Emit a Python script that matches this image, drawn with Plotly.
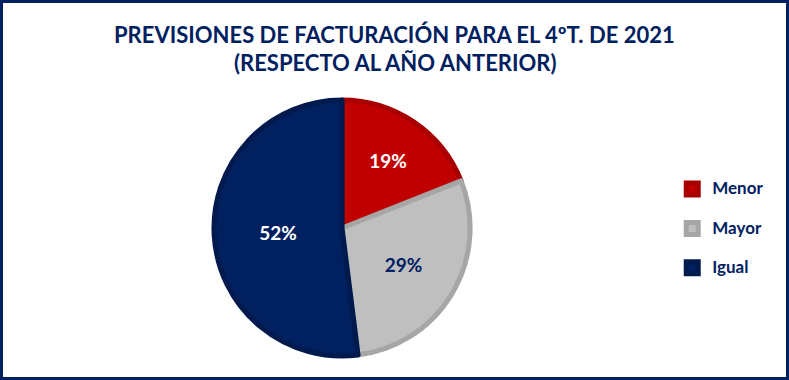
import plotly.graph_objects as go

categories = ["Menor", "Mayor", "Igual"]
values = [19, 29, 52]
slice_colors = ["#C00000", "#BFBFBF", "#002060"]
edge_colors = ["#A80000", "#A6A6A6", "#001A4D"]
text_colors = ["#FFFFFF", "#002060", "#FFFFFF"]

title_lines = ["PREVISIONES DE FACTURACIÓN PARA EL 4ºT. DE 2021", "(RESPECTO AL AÑO ANTERIOR)"]

NAVY = "#002060"
FONT = "Lato"

legend_labels = [f"<span style='font-size:17px'><b>{c}</b></span><br> " for c in categories]

fig = go.Figure()
fig.add_trace(go.Pie(
    labels=legend_labels,
    values=values,
    sort=False,
    direction="clockwise",
    rotation=0,
    marker=dict(colors=slice_colors, line=dict(color=edge_colors, width=5)),
    textinfo="percent",
    texttemplate="<b>%{percent:.0%}</b>",
    textposition="inside",
    insidetextorientation="horizontal",
    textfont=dict(family=FONT, size=19, color=text_colors),
    hoverinfo="skip",
    domain=dict(x=[0.2712, 0.5958], y=[0.063, 0.737]),
))

title_y = [1 - 34 / 380, 1 - 63 / 380]
annotations = [
    dict(text=f"<b>{t}</b>", x=0.5, xanchor="center", y=yy, yanchor="middle",
         xref="paper", yref="paper", showarrow=False,
         font=dict(family=FONT, size=22, color=NAVY))
    for t, yy in zip(title_lines, title_y)
]

fig.update_layout(
    width=789,
    height=380,
    margin=dict(l=0, r=0, t=0, b=0),
    paper_bgcolor="white",
    plot_bgcolor="white",
    font=dict(family=FONT, color=NAVY),
    annotations=annotations,
    showlegend=True,
    legend=dict(
        x=0.852, xanchor="left",
        y=0.374, yanchor="middle",
        font=dict(family=FONT, size=14, color=NAVY),
        valign="top",
        bgcolor="rgba(0,0,0,0)",
    ),
    shapes=[dict(
        type="rect", xref="paper", yref="paper",
        x0=0, x1=1, y0=0, y1=1,
        line=dict(color=NAVY, width=6),
        fillcolor="rgba(0,0,0,0)",
    )],
)

fig.write_html(
    "out.html",
    config={"displayModeBar": False},
    post_script="document.body.style.margin='0';document.body.style.overflow='hidden';",
)
